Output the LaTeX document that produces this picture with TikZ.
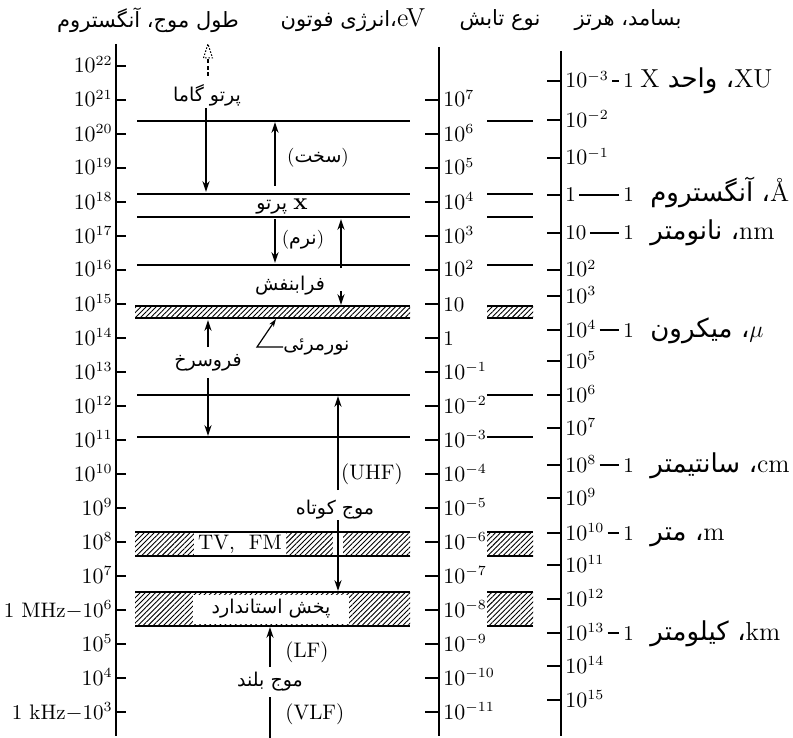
\documentclass[tikz,border=0pt]{standalone}
\usepackage{fontspec}
\usetikzlibrary{patterns.meta,arrows.meta}
\newfontfamily\arabicfont[Script=Arabic]{DejaVu Sans}
\TeXXeTstate=1
\newcommand{\fa}[1]{{\arabicfont\beginR #1\endR}}
\newcommand{\facm}{{\arabicfont ،}}
\begin{document}
\begin{tikzpicture}[x=0.5pt,y=-0.5pt,
  lbl/.style={font=\fontsize{10.5}{12}\selectfont, inner sep=0pt},
  unitlbl/.style={font=\fontsize{13}{15}\selectfont, inner sep=0pt},
  falbl/.style={font=\fontsize{9.5}{12}\selectfont, inner sep=0pt},
  headlbl/.style={font=\fontsize{10.5}{12}\selectfont, inner sep=0pt},
  axisline/.style={line width=0.9pt},
  tk/.style={line width=0.6pt},
  bound/.style={line width=0.6pt},
  arr/.style={line width=0.7pt,-{Stealth[length=5.5pt,width=3.6pt]}},
  hatch/.style={pattern={Lines[angle=45,distance=1.8pt,line width=0.45pt]}},
]
\useasboundingbox (0,0) rectangle (793,738);

% header
\node[headlbl] (h4) at (148,20) {\fa{طول موج، آنگستروم}};
\node[headlbl] (h3) at (353,20) {\fa{انرژی فوتون}\facm{\rmfamily\fontsize{13}{14}\selectfont eV}};
\node[headlbl] (h2) at (500,20) {\fa{نوع تابش}};
\node[headlbl] (h1) at (628,20) {\fa{بسامد، هرتز}};

% left axis (Hz)
\draw[axisline] (116,44) -- (116,736);
\foreach \n in {3,...,22}{
  \draw[tk] (116,{66+(22-\n)*34}) -- (126,{66+(22-\n)*34});
}
\foreach \n in {7,...,22}{
  \node[lbl,anchor=base east] (L\n) at (113,{73+(22-\n)*34}) {$10^{\n}$};
}
\foreach \n in {4,5}{
  \node[lbl,anchor=base east] (L\n) at (113,{73+(22-\n)*34}) {$10^{\n}$};
}
\node[lbl,anchor=base east] (L6) at (113,{73+16*34}) {1 MHz$-$10$^{6}$};
\node[lbl,anchor=base east] (L3) at (113,{73+19*34}) {1 kHz$-$10$^{3}$};

% middle axis (eV)
\draw[axisline] (439,47) -- (439,736);
\foreach \k in {-11,...,7}{
  \draw[tk] (425,{66+(8-\k)*34}) -- (439,{66+(8-\k)*34});
}
\foreach \k in {-11,...,-1}{
  \node[lbl,anchor=base west] (M\k) at (443,{73+(8-\k)*34}) {$10^{\k}$};
}
\foreach \k in {2,...,7}{
  \node[lbl,anchor=base west] (M\k) at (443,{73+(8-\k)*34}) {$10^{\k}$};
}
\node[lbl,anchor=base west] (M1) at (443,{73+7*34}) {10};
\node[lbl,anchor=base west] (M0) at (443,{73+8*34}) {1};

% right axis (Angstrom)
\draw[axisline] (561,51) -- (561,736);
\foreach \k/\yy in {-3/81,-2/120,-1/158,0/195,1/233,2/270,3/296,4/330,5/361,6/395,7/428,8/465,9/498,10/533,11/565,12/599,13/633,14/666,15/700}{
  \draw[tk] (547,\yy) -- (561,\yy);
}
\foreach \k/\yy in {-3/81,-2/120,-1/158,2/270,3/296,4/330,5/361,6/395,7/428,8/465,9/498,10/533,11/565,12/599,13/633,14/666,15/700}{
  \node[lbl,anchor=base west] (R\k) at (565,\yy+7) {$10^{\k}$};
}
\node[lbl,anchor=base west] (R0) at (565,202) {1};
\node[lbl,anchor=base west] (R1) at (565,240) {10};

\foreach \k/\yy in {-3/81,0/195,1/233,4/330,8/465,10/533,13/633}{
  \draw[tk] ([xshift=1.5pt]R\k.east |- 0,\yy) -- (619,\yy);
  \node[lbl,anchor=base west] (one\k) at (623,\yy+7) {1};
}
\node[unitlbl,anchor=base west] (u-3) at (640,88) {X\ \fa{واحد}\ \facm XU};
\node[unitlbl,anchor=base west] (u0) at (650,202) {\fa{آنگستروم}\ \facm Å};
\node[unitlbl,anchor=base west] (u1) at (650,240) {\fa{نانومتر}\ \facm nm};
\node[unitlbl,anchor=base west] (u4) at (650,337) {\fa{میکرون}\ \facm$\mu$};
\node[unitlbl,anchor=base west] (u8) at (650,472) {\fa{سانتیمتر}\ \facm cm};
\node[unitlbl,anchor=base west] (u10) at (650,540) {\fa{متر}\ \facm m};
\node[unitlbl,anchor=base west] (u13) at (650,640) {\fa{کیلومتر}\ \facm km};

% boundaries
\foreach \yy in {121,194,217,265,395,437}{
  \draw[bound] (137,\yy) -- (410,\yy);
  \draw[bound] (487,\yy) -- (533,\yy);
}
\foreach \ya/\yb in {306/318,532/556,592/626}{
  \fill[hatch] (135,\ya) rectangle (410,\yb);
  \draw[bound] (135,\ya) -- (410,\ya) (135,\yb) -- (410,\yb);
  \fill[hatch] (487,\ya) rectangle (533,\yb);
  \draw[bound] (487,\ya) -- (533,\ya) (487,\yb) -- (533,\yb);
}
\fill[white] (333,533) rectangle (343,555);
\node[lbl,fill=white,inner xsep=2pt,minimum height=11pt] (tv) at (240,544) {TV,\ \ FM};
\node[falbl,fill=white,minimum height=14.5pt,minimum width=78pt] (bc) at (271,609) {\fa{پخش استاندارد}};

% labels
\node[falbl] (gam) at (207,95) {\fa{پرتو گاما}};
\node[falbl] (hard) at (318,158) {(\fa{سخت})};
\node[falbl] (xr) at (282,206) {\fa{پرتو}\ {\fontsize{12}{14}\selectfont\textbf{x}}};
\node[falbl] (soft) at (303,240) {(\fa{نرم})};
\node[falbl] (uv) at (290,286) {\fa{فرابنفش}};
\node[falbl,anchor=west] (vis) at (283,347) {\fa{نورمرئی}};
\node[falbl] (ir) at (208,363) {\fa{فروسرخ}};
\node[lbl] (uhf) at (372,474) {(UHF)};
\node[falbl] (sw) at (335,510) {\fa{موج کوتاه}};
\node[lbl,anchor=west] (lf) at (285,652) {(LF)};
\node[falbl] (lw) at (270,682) {\fa{موج بلند}};
\node[lbl,anchor=west] (vlf) at (285,714) {(VLF)};

% arrows
\draw[line width=0.6pt,dash pattern=on 2pt off 1.2pt] (208,76) -- (208,58);
\draw[line width=0.5pt,dash pattern=on 0.8pt off 0.8pt] (203.5,58) -- (208,44) -- (212.5,58) -- cycle;
\draw[arr] (206,108) -- (206,192);
\draw[arr] (275,186) -- (275,122);
\draw[arr] (275,219) -- (275,263);
\draw[arr] (341,268) -- (341,219);
\draw[arr] (341,291) -- (341,305);
\draw[line width=0.6pt,-{Stealth[length=4pt,width=2.6pt]}] (vis.west) -- (257,347) -- (276,319);
\draw[arr] (208,347) -- (208,320);
\draw[arr] (208,378) -- (208,436);
\draw[arr] (338,490) -- (338,396);
\draw[arr] (338,520) -- (338,591);
\draw[arr] (270,667) -- (270,627);
\draw[line width=0.7pt] (270,697) -- (270,738);
\end{tikzpicture}
\end{document}
